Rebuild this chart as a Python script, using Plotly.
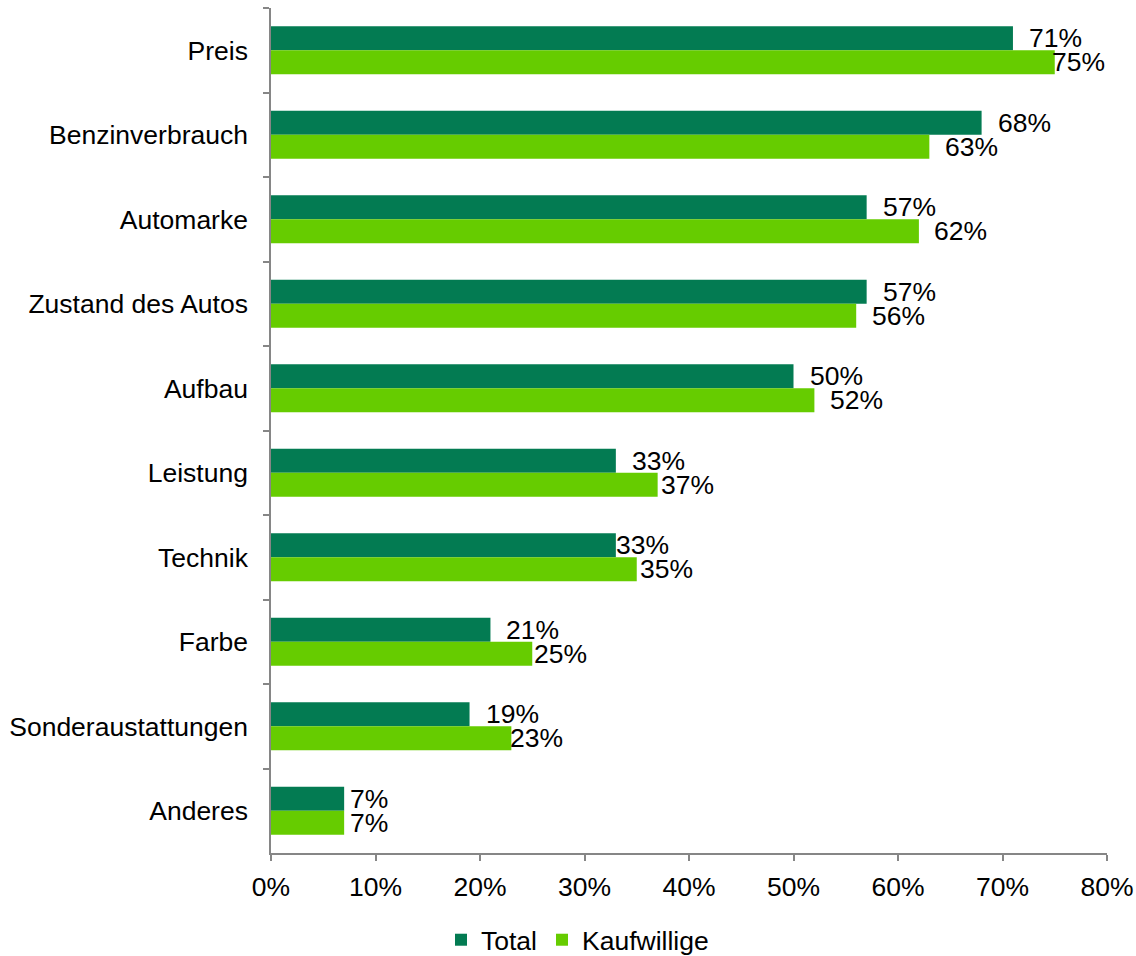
import plotly.graph_objects as go

categories = ["Preis", "Benzinverbrauch", "Automarke", "Zustand des Autos", "Aufbau",
              "Leistung", "Technik", "Farbe", "Sonderaustattungen", "Anderes"]
total = [71, 68, 57, 57, 50, 33, 33, 21, 19, 7]
kaufwillige = [75, 63, 62, 56, 52, 37, 35, 25, 23, 7]
x_ticks = [0, 10, 20, 30, 40, 50, 60, 70, 80]

# label offsets (px) from bar ends, as placed in the original
gap_total = [17, 17, 17, 17, 17, 17, 1, 17, 17, 7]
gap_kauf = [-2, 17, 16, 17, 17, 4, 4, 3, 0, 7]

DARK = "#037B52"
LIGHT = "#66CC00"
AXIS = "#868686"
FONT = "Liberation Sans, Arial, sans-serif"
FS = 26.5

fig = go.Figure()
fig.add_trace(go.Bar(y=categories, x=total, name="Total", orientation="h",
                     marker=dict(color=DARK, line=dict(width=0))))
fig.add_trace(go.Bar(y=categories, x=kaufwillige, name="Kaufwillige", orientation="h",
                     marker=dict(color=LIGHT, line=dict(width=0))))

annotations = []
for cat, v, g in zip(categories, total, gap_total):
    annotations.append(dict(x=v, y=cat, xref="x", yref="y", text=f"{v}%", showarrow=False,
                            xanchor="left", yanchor="middle", xshift=g - 3, yshift=12,
                            font=dict(family=FONT, size=FS, color="#000000")))
for cat, v, g in zip(categories, kaufwillige, gap_kauf):
    annotations.append(dict(x=v, y=cat, xref="x", yref="y", text=f"{v}%", showarrow=False,
                            xanchor="left", yanchor="middle", xshift=g - 3, yshift=-12,
                            font=dict(family=FONT, size=FS, color="#000000")))

fig.update_layout(
    width=1136, height=956,
    margin=dict(l=271, r=29, t=8, b=103, autoexpand=False),
    paper_bgcolor="white", plot_bgcolor="white",
    barmode="group", bargap=0.432, bargroupgap=0,
    font=dict(family=FONT, size=FS, color="#000000"),
    showlegend=True,
    legend=dict(orientation="h", xref="container", yref="container",
                x=441 / 1136, xanchor="left", y=1 - 940 / 956, yanchor="middle",
                font=dict(family=FONT, size=FS, color="#000000"),
                traceorder="normal", itemclick=False),
    annotations=annotations,
    xaxis=dict(range=[0, 80], tickvals=x_ticks, ticktext=[f"{t}%" for t in x_ticks],
               showgrid=False, zeroline=False, showline=True, linecolor=AXIS, linewidth=1.5,
               ticks="outside", ticklen=6, tickcolor=AXIS, tickwidth=1.5,
               ticklabelstandoff=3, automargin=False,
               tickfont=dict(family=FONT, size=FS, color="#000000")),
    yaxis=dict(type="category", autorange="reversed", showgrid=False, zeroline=False,
               showline=True, linecolor=AXIS, linewidth=1.5,
               ticks="outside", ticklen=6, tickcolor=AXIS, tickwidth=1.5,
               tickson="boundaries", ticklabelstandoff=16, automargin=False,
               tickfont=dict(family=FONT, size=FS, color="#000000")),
)

fig.write_html("out.html")
